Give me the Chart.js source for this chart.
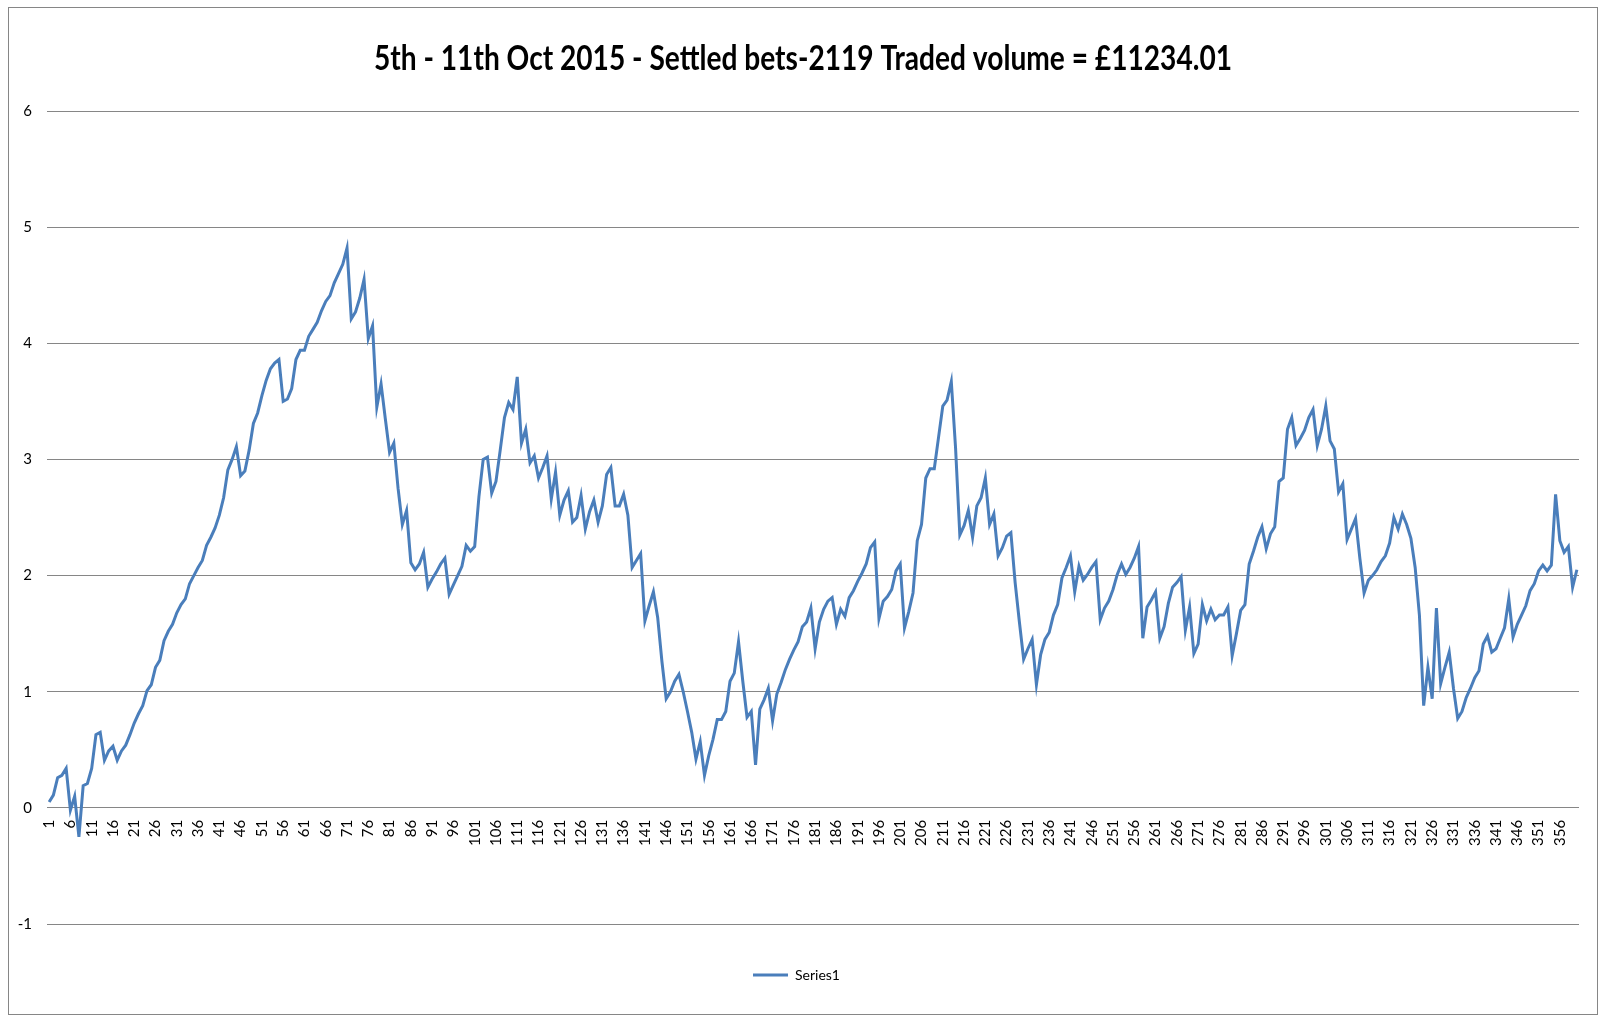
<!DOCTYPE html>
<html>
<head>
<meta charset="utf-8">
<script src="https://cdn.jsdelivr.net/npm/chart.js@4/dist/chart.umd.min.js"></script>
<style>
  html, body { margin: 0; padding: 0; background: #fff; }
  #frame { position: absolute; left: 8px; top: 7px; width: 1588px; height: 1006px; border: 1px solid #868686; }
  canvas { position: absolute; left: 0; top: 0; }
</style>
</head>
<body>
<div id="frame"></div>
<canvas id="chart" width="1605" height="1021"></canvas>
<script>
const chartTitle = '5th - 11th Oct 2015 - Settled bets-2119 Traded volume = £11234.01';
const seriesName = 'Series1';

// one category per settled-bet batch, numbered from 1
const categories = Array.from({ length: 360 }, (_, i) => String(i + 1));

// values, in order 1..360
const series1 = [
  0.05, 0.11, 0.26, 0.28, 0.34, -0.02, 0.10, -0.25, 0.19, 0.21,
  0.34, 0.63, 0.65, 0.41, 0.49, 0.53, 0.41, 0.49, 0.54, 0.63,
  0.73, 0.81, 0.88, 1.01, 1.06, 1.21, 1.27, 1.44, 1.52, 1.58,
  1.68, 1.75, 1.80, 1.93, 2.00, 2.07, 2.13, 2.26, 2.33, 2.41,
  2.52, 2.67, 2.91, 3.00, 3.11, 2.86, 2.90, 3.08, 3.31, 3.40,
  3.55, 3.68, 3.78, 3.83, 3.86, 3.50, 3.52, 3.61, 3.86, 3.94,
  3.94, 4.06, 4.12, 4.18, 4.28, 4.36, 4.41, 4.52, 4.60, 4.68,
  4.82, 4.21, 4.27, 4.39, 4.55, 4.04, 4.15, 3.45, 3.65, 3.35,
  3.06, 3.14, 2.75, 2.44, 2.56, 2.11, 2.05, 2.10, 2.20, 1.90,
  1.97, 2.03, 2.10, 2.15, 1.84, 1.92, 2.00, 2.08, 2.26, 2.21,
  2.25, 2.68, 3.00, 3.02, 2.71, 2.81, 3.08, 3.36, 3.49, 3.43,
  3.71, 3.14, 3.26, 2.97, 3.03, 2.84, 2.93, 3.03, 2.66, 2.89,
  2.52, 2.65, 2.73, 2.46, 2.50, 2.69, 2.40, 2.55, 2.65, 2.46,
  2.60, 2.87, 2.93, 2.60, 2.60, 2.70, 2.52, 2.07, 2.13, 2.19,
  1.61, 1.74, 1.86, 1.64, 1.26, 0.94, 1.00, 1.09, 1.15, 1.00,
  0.83, 0.65, 0.42, 0.57, 0.28, 0.45, 0.59, 0.76, 0.76, 0.83,
  1.09, 1.16, 1.43, 1.09, 0.78, 0.83, 0.37, 0.85, 0.93, 1.03,
  0.75, 0.98, 1.08, 1.19, 1.28, 1.36, 1.43, 1.56, 1.60, 1.72,
  1.37, 1.60, 1.71, 1.78, 1.81, 1.58, 1.71, 1.65, 1.81, 1.87,
  1.95, 2.02, 2.10, 2.24, 2.29, 1.63, 1.78, 1.82, 1.88, 2.04,
  2.10, 1.55, 1.69, 1.85, 2.30, 2.44, 2.84, 2.92, 2.92, 3.19,
  3.46, 3.51, 3.67, 3.10, 2.35, 2.43, 2.56, 2.33, 2.60, 2.67,
  2.84, 2.44, 2.53, 2.17, 2.24, 2.34, 2.37, 1.94, 1.60, 1.28,
  1.37, 1.45, 1.06, 1.32, 1.45, 1.51, 1.66, 1.75, 1.98, 2.07,
  2.17, 1.86, 2.08, 1.96, 2.01, 2.07, 2.12, 1.62, 1.72, 1.78,
  1.88, 2.01, 2.10, 2.01, 2.07, 2.15, 2.25, 1.46, 1.73, 1.79,
  1.86, 1.46, 1.56, 1.76, 1.90, 1.94, 1.99, 1.53, 1.73, 1.33,
  1.41, 1.75, 1.61, 1.71, 1.62, 1.66, 1.66, 1.73, 1.31, 1.50,
  1.70, 1.75, 2.10, 2.21, 2.33, 2.42, 2.23, 2.36, 2.42, 2.81,
  2.84, 3.26, 3.36, 3.12, 3.18, 3.25, 3.36, 3.43, 3.12, 3.26,
  3.46, 3.16, 3.09, 2.72, 2.79, 2.31, 2.40, 2.49, 2.15, 1.85,
  1.96, 2.00, 2.05, 2.12, 2.17, 2.28, 2.50, 2.40, 2.53, 2.44,
  2.32, 2.07, 1.66, 0.88, 1.21, 0.94, 1.72, 1.07, 1.21, 1.34,
  1.03, 0.77, 0.83, 0.95, 1.03, 1.12, 1.18, 1.41, 1.48, 1.34,
  1.37, 1.46, 1.55, 1.80, 1.47, 1.58, 1.66, 1.74, 1.87, 1.93,
  2.04, 2.09, 2.04, 2.09, 2.70, 2.30, 2.20, 2.25, 1.90, 2.05
];

const yMin = -1;
const yMax = 6;
const labelEvery = 5;

// the title in the picture is a narrow bold face, so squeeze a normal one to the same width
const squeezedTitle = {
  id: 'squeezedTitle',
  afterDraw(chart) {
    const ctx = chart.ctx;
    ctx.save();
    ctx.font = 'bold 34px Lato, "Open Sans", sans-serif';
    const w = ctx.measureText(chartTitle).width;
    ctx.translate(803, 70);
    ctx.scale(858 / w, 1);
    ctx.textAlign = 'center';
    ctx.textBaseline = 'alphabetic';
    ctx.fillStyle = '#000';
    ctx.fillText(chartTitle, 0, 0);
    ctx.restore();
  }
};

const ctx = document.getElementById('chart');
new Chart(ctx, {
  type: 'line',
  data: {
    labels: categories,
    datasets: [{
      label: seriesName,
      data: series1,
      borderColor: '#4A7EBB',
      backgroundColor: '#4A7EBB',
      borderWidth: 3,
      pointRadius: 0,
      tension: 0,
      fill: false
    }]
  },
  options: {
    responsive: false,
    animation: false,
    layout: {
      padding: { left: 14, right: 26, top: 111, bottom: 29 }
    },
    scales: {
      x: {
        position: { y: 0 },
        offset: true,
        grid: { display: false },
        border: { display: false },
        ticks: {
          autoSkip: false,
          minRotation: 90,
          maxRotation: 90,
          padding: 4,
          color: '#000',
          font: { family: 'Lato, "Open Sans", sans-serif', size: 15 },
          callback: (v, i) => (i % labelEvery === 0 ? categories[i] : '')
        }
      },
      y: {
        min: yMin,
        max: yMax,
        afterFit: (s) => { s.width = 33; },
        border: { display: false },
        grid: { color: '#868686', lineWidth: 1, drawTicks: false },
        ticks: {
          stepSize: 1,
          padding: 15,
          color: '#000',
          font: { family: 'Lato, "Open Sans", sans-serif', size: 15 }
        }
      }
    },
    plugins: {
      title: { display: false },
      tooltip: { enabled: false },
      legend: {
        position: 'bottom',
        labels: {
          usePointStyle: true,
          pointStyle: 'line',
          pointStyleWidth: 35,
          padding: 44,
          color: '#000',
          font: { family: 'Lato, "Open Sans", sans-serif', size: 14 }
        }
      }
    }
  },
  plugins: [squeezedTitle]
});
</script>
</body>
</html>
